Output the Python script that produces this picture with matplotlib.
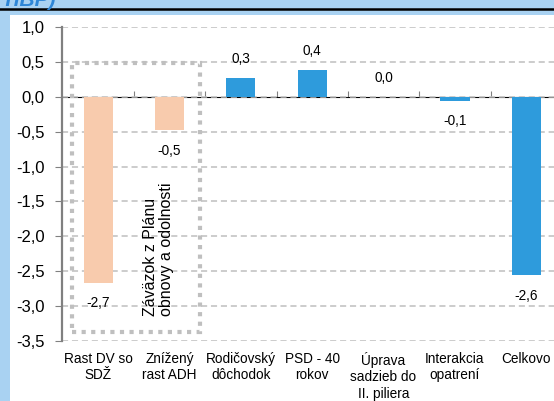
import matplotlib
matplotlib.use('Agg')
import matplotlib.pyplot as plt
from matplotlib.patches import Rectangle
from matplotlib.lines import Line2D

plt.rcParams['font.family'] = ['Liberation Sans', 'DejaVu Sans']

categories = ['Rast DV so\nSDŽ', 'Znížený\nrast ADH', 'Rodičovský\ndôchodok',
              'PSD - 40\nrokov', 'Úprava\nsadzieb do\nII. piliera',
              'Interakcia\nopatrení', 'Celkovo']
values = [-2.67, -0.48, 0.27, 0.38, 0.0, -0.06, -2.56]
labels = ['-2,7', '-0,5', '0,3', '0,4', '0,0', '-0,1', '-2,6']
colors = ['#F8CBAD', '#F8CBAD', '#2E9BDC', '#2E9BDC', '#2E9BDC', '#2E9BDC', '#2E9BDC']
yticks = [1.0, 0.5, 0.0, -0.5, -1.0, -1.5, -2.0, -2.5, -3.0, -3.5]

W, H = 554, 401
fig = plt.figure(figsize=(W / 100, H / 100), dpi=100, facecolor='#A9D2F2')

# white panel + header line
fig.patches.append(Rectangle((10 / W, 0), 1, (H - 15) / H, transform=fig.transFigure,
                             facecolor='white', edgecolor='none', zorder=-5))
fig.add_artist(Line2D([0, 1], [1 - 8.5 / H, 1 - 8.5 / H], transform=fig.transFigure,
                      color='black', lw=1.8))
fig.text(2 / W, 1 - 6 / H, 'TIBP)', color='#2E86D6', fontsize=15, fontweight='bold',
         style='italic', va='baseline', ha='left')

ax = fig.add_axes([62.5 / W, (H - 341) / H, 1 - 62.5 / W, (341 - 27) / H])
ax.set_facecolor('none')
x = list(range(len(categories)))
ax.bar(x, values, width=0.41, color=colors, zorder=3)

ax.set_xlim(-0.5, 6.389)
ax.set_ylim(-3.5, 1.0)
ax.set_yticks(yticks)
ax.set_yticklabels([f'{v:.1f}'.replace('.', ',') for v in yticks], fontsize=12)
ax.yaxis.grid(True, color='#BFBFBF', linestyle=(0, (4, 2.5)), lw=1.1)
ax.set_axisbelow(True)
ax.tick_params(axis='y', length=5, color='#808080', pad=8)

ax.set_xticks(x)
ax.set_xticklabels(categories, fontsize=9.8, linespacing=1.2)
ax.tick_params(axis='x', length=0, pad=8)

for s in ['top', 'right', 'bottom']:
    ax.spines[s].set_visible(False)
ax.spines['left'].set_color('#808080')
ax.spines['left'].set_linewidth(1.6)

# category axis line at zero
sec = ax.secondary_xaxis(3.5 / 4.5)
sec.set_xticks([i + 0.5 for i in x[:-1]])
sec.set_xticklabels([])
sec.tick_params(length=4, color='#808080', direction='out')
sec.spines['bottom'].set_color('#808080')
sec.spines['bottom'].set_linewidth(1.3)

# data labels
for xi, v, lab in zip(x, values, labels):
    off = 0.27 if v >= 0 else -0.29
    ax.text(xi, v + off, lab, ha='center', va='center', fontsize=9.8, zorder=4)

# dotted box around plan commitments
ax.add_patch(Rectangle((-0.372, -3.367), 1.795, 3.854, fill=False, edgecolor='#BFBFBF',
                       lw=3, linestyle=(0, (1, 1.3)), zorder=2, clip_on=False))
ax.text(0.85, -3.14, 'Záväzok z Plánu\nobnovy a odolnosti', rotation=90, ha='center',
        va='bottom', multialignment='left', fontsize=11.5, linespacing=1.1, zorder=4)

fig.savefig('out.png', dpi=100, facecolor=fig.get_facecolor())
